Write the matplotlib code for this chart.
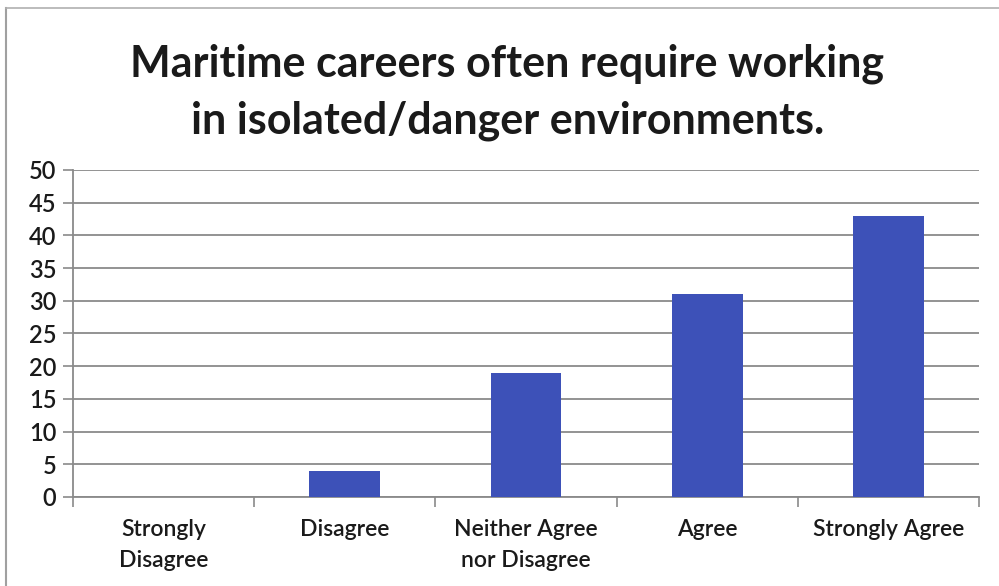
import matplotlib
matplotlib.use("Agg")
import matplotlib.pyplot as plt
from matplotlib.lines import Line2D
import numpy as np

plt.rcParams['font.family'] = ['Lato', 'DejaVu Sans']

categories = ["Strongly\nDisagree", "Disagree", "Neither Agree\nnor Disagree", "Agree", "Strongly Agree"]
responses = [0, 4, 19, 31, 43]
y_ticks = [0, 5, 10, 15, 20, 25, 30, 35, 40, 45, 50]
title = "Maritime careers often require working\nin isolated/danger environments."

bar_color = "#3d51b8"
grid_color = "#8a8a8a"
text_color = "#1a1a1a"

fig = plt.figure(figsize=(9.99, 5.86), dpi=100)
ax = fig.add_axes([0.0731, 0.1519, 0.9069, 0.558])

x = np.arange(len(categories))
ax.bar(x, responses, width=0.39, color=bar_color, zorder=3)

ax.set_xlim(-0.5, len(categories) - 0.5)
ax.set_ylim(0, 50)
ax.set_yticks(y_ticks)
ax.set_yticklabels([str(v) for v in y_ticks], fontsize=17, fontweight=600, color=text_color)
ax.yaxis.grid(True, color=grid_color, linewidth=1.3, zorder=0)
ax.tick_params(axis='y', length=7, width=1.2, color=grid_color, pad=5)

# category labels centred under the bars, tick marks on the category boundaries
ax.set_xticks(x)
ax.set_xticklabels(categories, fontsize=16.5, fontweight=600, color=text_color, linespacing=1.55)
ax.tick_params(axis='x', which='major', length=0, pad=16)
ax.set_xticks(np.arange(len(categories) + 1) - 0.5, minor=True)
ax.tick_params(axis='x', which='minor', length=7, width=1.2, color=grid_color)

for side in ("top", "right"):
    ax.spines[side].set_visible(False)
for side in ("left", "bottom"):
    ax.spines[side].set_color(grid_color)
    ax.spines[side].set_linewidth(1.3)

fig.text(0.508, 0.842, title, ha="center", va="center", fontsize=31,
         fontweight="bold", color=text_color, linespacing=1.5)

# chart frame (left and top edges)
fig.add_artist(Line2D([0.0065, 0.0065], [0.0, 0.986], transform=fig.transFigure,
                      color="#a0a0a0", linewidth=1.5))
fig.add_artist(Line2D([0.0065, 1.0], [0.986, 0.986], transform=fig.transFigure,
                      color="#b0b0b0", linewidth=1.2))

fig.savefig("out.png", dpi=100)
